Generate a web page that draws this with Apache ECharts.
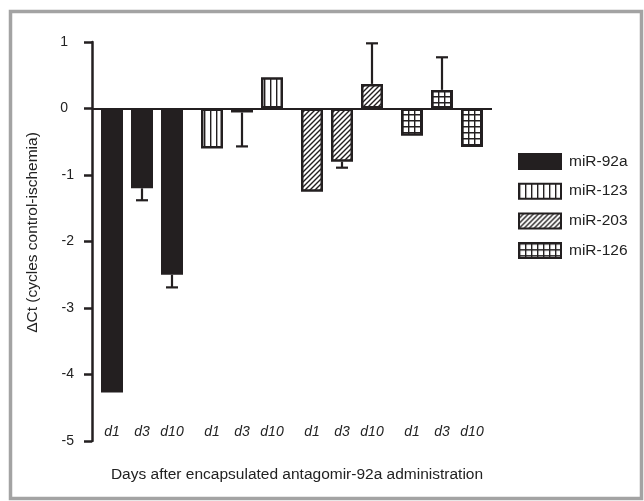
<!DOCTYPE html>
<html>
<head>
    <meta charset="utf-8">
    <script type="text/javascript" src="https://cdn.jsdelivr.net/npm/echarts@6/dist/echarts.min.js"></script>
    <style>
        html, body { margin: 0; padding: 0; background: #fff; }
    </style>
</head>
<body>
    <div id="main" style="width: 644px;height:501px;"></div>
    <script type="text/javascript">
    // positions of the bars on the x scale (d1, d3, d10 of each group)
    let days = ['d1', 'd3', 'd10']
    let mirNames = ['miR-92a', 'miR-123', 'miR-203', 'miR-126']
    let groupPos = [
        [0, 3, 6],
        [10, 13, 16],
        [20, 23, 26],
        [30, 33, 36]
    ]
    // delta Ct values
    let mir92a = [-4.27, -1.20, -2.50]
    let mir123 = [-0.60, -0.06, 0.47]
    let mir203 = [-1.25, -0.80, 0.37]
    let mir126 = [-0.41, 0.28, -0.58]
    // error bar ends (null = no bar drawn)
    let err92a = [null, -1.38, -2.69]
    let err123 = [null, -0.57, null]
    let err203 = [null, -0.89, 0.98]
    let err126 = [null, 0.77, null]
    let yTicks = [-5, -4, -3, -2, -1, 0, 1]

    let ink = '#231f20'

    function makePattern(kind) {
        let c = document.createElement('canvas')
        let s = kind == 'diag' ? 5 : 6
        c.width = s
        c.height = s
        let ctx = c.getContext('2d')
        ctx.fillStyle = '#fff'
        ctx.fillRect(0, 0, s, s)
        ctx.strokeStyle = ink
        ctx.lineWidth = 1.4
        ctx.beginPath()
        if (kind == 'vert' || kind == 'grid') {
            ctx.moveTo(0.7, 0); ctx.lineTo(0.7, s)
        }
        if (kind == 'grid') {
            ctx.moveTo(0, 0.7); ctx.lineTo(s, 0.7)
        }
        if (kind == 'diag') {
            ctx.moveTo(-1, s + 1); ctx.lineTo(s + 1, -1)
            ctx.moveTo(-1, 1); ctx.lineTo(1, -1)
            ctx.moveTo(s - 1, s + 1); ctx.lineTo(s + 1, s - 1)
        }
        ctx.stroke()
        return { image: c, repeat: 'repeat' }
    }

    let fills = [ink, makePattern('vert'), makePattern('diag'), makePattern('grid')]
    let values = [mir92a, mir123, mir203, mir126]
    let errs = [err92a, err123, err203, err126]

    let dayLabel = {}
    groupPos.forEach(g => g.forEach((p, i) => { dayLabel[p] = days[i] }))

    let series = mirNames.map((name, k) => ({
        name: name,
        type: 'bar',
        barWidth: 22,
        barGap: '-100%',
        itemStyle: {
            color: fills[k],
            borderColor: ink,
            borderWidth: 2.5
        },
        data: values[k].map((v, i) => [groupPos[k][i], v]),
        markLine: k == 0 ? {
            silent: true,
            symbol: ['none', 'none'],
            label: { show: false },
            lineStyle: { color: ink, width: 2, type: 'solid' },
            data: [{ yAxis: 0 }]
        } : undefined
    }))

    let errData = []
    errs.forEach((arr, k) => arr.forEach((e, i) => {
        if (e != null) errData.push([groupPos[k][i], values[k][i], e])
    }))

    series.push({
        type: 'custom',
        silent: true,
        data: errData,
        renderItem: function (params, api) {
            let a = api.coord([api.value(0), api.value(1)])
            let b = api.coord([api.value(0), api.value(2)])
            let st = { stroke: ink, lineWidth: 2.2 }
            return {
                type: 'group',
                children: [
                    { type: 'line', shape: { x1: a[0], y1: a[1], x2: b[0], y2: b[1] }, style: st },
                    { type: 'line', shape: { x1: b[0] - 6, y1: b[1], x2: b[0] + 6, y2: b[1] }, style: st }
                ]
            }
        }
    })

    let myChart = echarts.init(document.getElementById('main'))
    let option = {
        animation: false,
        textStyle: { fontFamily: 'Liberation Sans, Arial, sans-serif' },
        graphic: [{
            type: 'rect',
            shape: { x: 10.5, y: 11.5, width: 631, height: 487 },
            style: { fill: 'none', stroke: '#a3a3a3', lineWidth: 3.5 },
            silent: true
        }],
        grid: { left: 92, right: 152, top: 42, bottom: 60 },
        legend: {
            orient: 'vertical',
            left: 513,
            top: 148,
            icon: 'rect',
            itemWidth: 42,
            itemHeight: 15,
            itemGap: 12.7,
            textStyle: { fontSize: 15.5, color: '#222', padding: [0, 0, 0, 3] },
            data: mirNames
        },
        xAxis: {
            type: 'value',
            min: -2,
            max: 38,
            interval: 1,
            name: 'Days after encapsulated antagomir-92a administration',
            nameLocation: 'middle',
            nameGap: 26,
            nameTextStyle: { fontSize: 15.5, color: '#222', padding: [0, 0, 0, 10] },
            axisLine: { show: false },
            axisTick: { show: false },
            splitLine: { show: false },
            axisLabel: {
                inside: true,
                margin: 2,
                fontSize: 14,
                fontStyle: 'italic',
                color: '#222',
                formatter: v => dayLabel[v] || ''
            }
        },
        yAxis: {
            type: 'value',
            min: yTicks[0],
            max: yTicks[yTicks.length - 1],
            interval: 1,
            name: 'ΔCt (cycles control-ischemia)',
            nameLocation: 'middle',
            nameGap: 51,
            nameTextStyle: { fontSize: 15.5, color: '#222', padding: [0, 0, 0, 18] },
            axisLine: { show: true, onZero: false, lineStyle: { color: ink, width: 2.5 } },
            axisTick: { show: true, length: 8, lineStyle: { color: ink, width: 2.5 } },
            splitLine: { show: false },
            axisLabel: {
                fontSize: 14,
                color: '#222',
                margin: 18,
                formatter: v => v >= 0 ? '{p|' + v + '}' : String(v),
                rich: { p: { fontSize: 14, color: '#222', padding: [0, 6, 0, 0] } }
            }
        },
        series: series
    }
    myChart.setOption(option)
    </script>
</body>
</html>
